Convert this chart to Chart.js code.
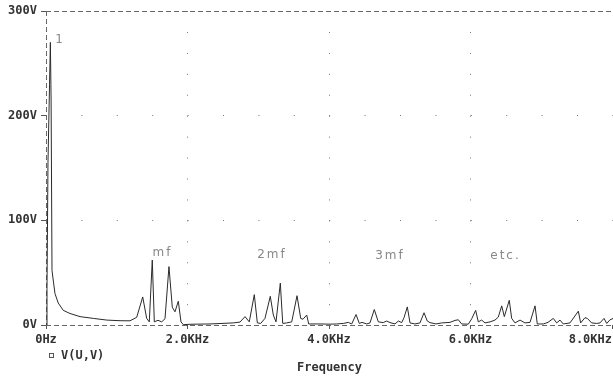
<!DOCTYPE html>
<html>
<head>
<meta charset="utf-8">
<script src="https://cdn.jsdelivr.net/npm/chart.js@4/dist/chart.umd.min.js"></script>
<style>
  html, body { margin: 0; padding: 0; background: #fff; }
  #wrap { width: 613px; height: 377px; }
</style>
</head>
<body>
<div id="wrap"><canvas id="spectrum"></canvas></div>
<script>
// spectrum data: frequency (Hz) and magnitude (V)
const freqHz = [
  0, 14, 28, 50, 62, 72, 85, 104, 127, 173, 244, 339, 481, 669, 859, 1047,
  1187, 1282, 1367, 1423, 1460, 1502, 1531, 1583, 1635, 1682, 1738, 1785, 1823, 1870, 1908, 1941,
  2035, 2318, 2647, 2742, 2813, 2873, 2944, 2987, 3035, 3095, 3170, 3213, 3251, 3312, 3346,
  3402, 3473, 3548, 3600, 3632, 3685, 3713, 3873, 4014,
  4109, 4202, 4273, 4321, 4382, 4428, 4466, 4533, 4579, 4640, 4697, 4767, 4815, 4862, 4933,
  4980, 5028, 5060, 5107, 5145, 5215, 5286, 5343, 5389, 5427, 5512, 5593, 5710, 5781, 5828,
  5875, 5969, 6017, 6073, 6110, 6158, 6205, 6276, 6346, 6393, 6441, 6478, 6548, 6582, 6629,
  6700, 6770, 6841, 6912, 6944, 7029, 7095, 7170, 7218, 7265, 7312, 7406, 7524, 7557, 7618,
  7651, 7713, 7783, 7830, 7887, 7925, 7972, 8019
];
const volts = [
  0, 35, 155, 230, 270, 215, 52, 42, 30, 21, 14, 11, 8, 6.3, 4.7, 4.1,
  4.0, 7.3, 26.8, 6.3, 3, 62, 3, 4.5, 3, 6, 55.8, 17, 12.6, 22.7, 3, 0.3,
  0.7, 1, 2, 2.8, 8, 3, 29, 2, 1.5, 6.3, 27.4, 9.5, 3, 40, 1.5,
  2, 3, 28, 6.3, 5.5, 9.5, 1, 1, 0.8,
  1, 1.5, 2.5, 1, 10, 1.5, 2.5, 1, 2, 14.8, 3, 2.3, 3.8, 2.3, 1,
  3.8, 2.3, 7, 17.3, 2, 1, 2, 11.7, 3.8, 2.3, 1, 2, 2.5, 4.4, 5,
  1, 0.8, 6, 14, 3, 4.7, 2, 3, 4.7, 7.6, 18.3, 8, 23.6, 6.3, 2,
  4.7, 2, 2.5, 18.3, 1, 1, 2.5, 6.3, 2, 4.7, 1, 2, 13.2, 2, 7,
  6.3, 2, 1.5, 2, 6.3, 1.5, 5, 6.3
];

// axis ticks
const xTickValues = [0, 2000, 4000, 6000, 8000];
const xTickLabels = ['0Hz', '2.0KHz', '4.0KHz', '6.0KHz', '8.0KHz'];
const yTickValues = [0, 100, 200, 300];
const yTickLabels = ['0V', '100V', '200V', '300V'];

// text notes on the plot
const noteText = ['1', 'mf', '2mf', '3mf', 'etc.'];
const noteFreq = [198, 1647, 3194, 4862, 6495];
const noteVolt = [272, 68.8, 66.9, 65.9, 65.9];

const traceName = 'V(U,V)';

const monoFont = { family: 'DejaVu Sans Mono', size: 12, weight: 'bold' };
const textColor = '#333';
const frameColor = '#666';

// last x label is kept inside the window, like the plotter does
function xLabel(v) {
  const i = xTickValues.indexOf(v);
  const s = xTickLabels[i];
  return i === xTickValues.length - 1 ? s + '      ' : s;
}

// dashed frame, notes and the little legend
const extrasPlugin = {
  id: 'extras',
  beforeDatasetsDraw(chart) {
    const { ctx, chartArea: a } = chart;
    ctx.save();
    ctx.strokeStyle = frameColor;
    ctx.lineWidth = 1;
    ctx.setLineDash([5, 3]);
    ctx.beginPath();
    ctx.moveTo(a.left, a.top + 0.5); ctx.lineTo(a.right, a.top + 0.5);
    ctx.moveTo(a.left + 0.5, a.top); ctx.lineTo(a.left + 0.5, a.bottom);
    ctx.moveTo(a.left, a.bottom + 0.5); ctx.lineTo(a.right, a.bottom + 0.5);
    ctx.stroke();
    ctx.restore();
  },
  afterDraw(chart) {
    const { ctx, scales: { x, y } } = chart;
    ctx.save();
    ctx.fillStyle = '#888';
    ctx.font = '12px "DejaVu Sans"';
    ctx.textAlign = 'center';
    ctx.textBaseline = 'middle';
    ctx.letterSpacing = '2px';
    noteText.forEach((t, i) => {
      ctx.fillText(t, x.getPixelForValue(noteFreq[i]), y.getPixelForValue(noteVolt[i]));
    });
    ctx.letterSpacing = '0px';

    // legend entry under the x axis
    ctx.strokeStyle = '#555';
    ctx.lineWidth = 1;
    ctx.strokeRect(49.5, 353.5, 4, 4);
    ctx.fillStyle = textColor;
    ctx.font = 'bold 12px "DejaVu Sans Mono"';
    ctx.textAlign = 'left';
    ctx.fillText(traceName, 61, 356);
    ctx.restore();
  }
};

new Chart(document.getElementById('spectrum'), {
  type: 'line',
  data: {
    datasets: [{
      label: traceName,
      data: freqHz.map((f, i) => ({ x: f, y: volts[i] })),
      borderColor: '#2a2a2a',
      borderWidth: 1,
      pointRadius: 0,
      tension: 0,
      fill: false
    }]
  },
  options: {
    responsive: true,
    maintainAspectRatio: false,
    animation: false,
    layout: { padding: { top: 11, left: 0, right: 0, bottom: 0 } },
    plugins: {
      legend: { display: false },
      tooltip: { enabled: false }
    },
    scales: {
      x: {
        type: 'linear',
        min: 0,
        max: 8014,
        afterBuildTicks: s => { s.ticks = xTickValues.map(v => ({ value: v })); },
        afterFit: s => { s.height = 52; s.paddingLeft = 0; s.paddingRight = 0; },
        ticks: {
          autoSkip: false,
          maxRotation: 0,
          padding: 4,
          color: textColor,
          font: monoFont,
          callback: xLabel
        },
        grid: {
          color: c => (c.tick && c.tick.value > 0 && c.tick.value < 8000) ? '#777' : 'rgba(0,0,0,0)',
          tickColor: '#555',
          tickLength: 4,
          lineWidth: 1
        },
        border: { display: false, dash: [1, 19.94] },
        title: {
          display: true,
          text: 'Frequency',
          color: textColor,
          font: monoFont,
          padding: { top: 0, bottom: 2 }
        }
      },
      y: {
        min: 0,
        max: 300,
        afterBuildTicks: s => { s.ticks = yTickValues.map(v => ({ value: v })); },
        afterFit: s => { s.width = 46; s.paddingTop = 0; s.paddingBottom = 0; },
        ticks: {
          padding: 4,
          color: textColor,
          font: monoFont,
          callback: v => yTickLabels[yTickValues.indexOf(v)]
        },
        grid: {
          color: c => (c.tick && c.tick.value > 0 && c.tick.value < 300) ? '#777' : 'rgba(0,0,0,0)',
          tickColor: '#555',
          tickLength: 5,
          lineWidth: 1
        },
        border: { display: false, dash: [1, 34.4] }
      }
    }
  },
  plugins: [extrasPlugin]
});
</script>
</body>
</html>
